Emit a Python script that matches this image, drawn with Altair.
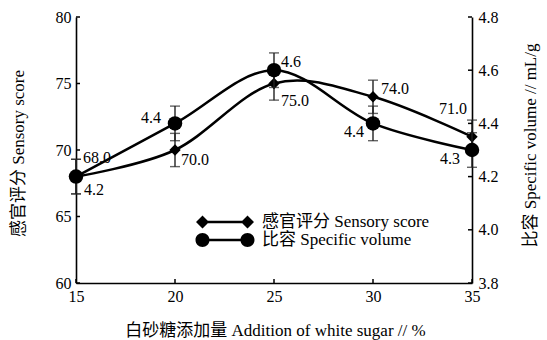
import altair as alt
import pandas as pd

# Sugar addition levels (%) and the two measured responses
sugar = [15, 20, 25, 30, 35]
sensory = [68.0, 70.0, 75.0, 74.0, 71.0]
sensory_err = [1.3, 1.25, 1.25, 1.25, 1.25]
volume = [4.2, 4.4, 4.6, 4.4, 4.3]
volume_err = [0.065, 0.065, 0.065, 0.065, 0.065]

series_names = ["感官评分 Sensory score", "比容 Specific volume"]
x_ticks = [15, 20, 25, 30, 35]
left_ticks = [60, 65, 70, 75, 80]
right_ticks = [3.8, 4.0, 4.2, 4.4, 4.6, 4.8]

W, H = 396, 266
FONT = "Liberation Serif, Noto Sans CJK SC, serif"
INK = "#000000"

df = pd.DataFrame({
    "sugar": sugar,
    "sensory": sensory,
    "s_lo": [v - e for v, e in zip(sensory, sensory_err)],
    "s_hi": [v + e for v, e in zip(sensory, sensory_err)],
    "s_text": [f"{v:.1f}" for v in sensory],
    "volume": volume,
    "v_lo": [v - e for v, e in zip(volume, volume_err)],
    "v_hi": [v + e for v, e in zip(volume, volume_err)],
    "v_text": [f"{v:.1f}" for v in volume],
})
xt_df = pd.DataFrame({"tick": x_ticks})
lt_df = pd.DataFrame({"tick": left_ticks})
rt_df = pd.DataFrame({"tick": right_ticks})
legend_df = pd.DataFrame({"series": series_names, "sugar": [15, 15], "sensory": [68.0, 68.0]})

axis_common = dict(
    domainColor=INK, domainWidth=1.6, tickSize=0, labelFont=FONT, labelFontSize=16,
    labelColor=INK, titleFont=FONT, titleFontSize=17, titleFontWeight="normal",
    titleColor=INK, grid=False, labelFlush=False,
)

x_axis = alt.Axis(values=x_ticks, format="d", title="白砂糖添加量 Addition of white sugar // %",
                  labelPadding=5, titleX=199, titleY=47, titleBaseline="middle",
                  titleAlign="center", **axis_common)
left_axis = alt.Axis(values=left_ticks, format="d", title="感官评分 Sensory score",
                     labelPadding=5, titleAngle=270, titleX=-58, titleY=136,
                     titleBaseline="middle", titleAlign="center", **axis_common)
right_axis = alt.Axis(values=right_ticks, format=".1f", orient="right",
                      title="比容 Specific volume // mL/g", labelPadding=6,
                      titleAngle=270, titleX=58, titleY=128, titleBaseline="middle",
                      titleAlign="center", **axis_common)

x_scale = alt.Scale(domain=[15, 35], nice=False, zero=False)
ls_scale = alt.Scale(domain=[60, 80], nice=False, zero=False)
rs_scale = alt.Scale(domain=[3.8, 4.8], nice=False, zero=False)


def X(field="sugar"):
    return alt.X(f"{field}:Q", scale=x_scale, axis=x_axis)


def YL(field):
    return alt.Y(f"{field}:Q", scale=ls_scale, axis=left_axis)


def YR(field):
    return alt.Y(f"{field}:Q", scale=rs_scale, axis=right_axis)


def label_layers(y_fn, field, text_field, placements):
    layers = []
    for xv, (align, dx, dy) in zip(sugar, placements):
        layers.append(
            alt.Chart(df).transform_filter(alt.datum.sugar == xv)
            .mark_text(align=align, baseline="middle", dx=dx, dy=dy, font=FONT,
                       fontSize=16, color=INK)
            .encode(x=X(), y=y_fn(field), text=f"{text_field}:N")
        )
    return layers


sensory_labels = [("left", 7, -19), ("left", 6, 10), ("left", 7, 17), ("left", 8, -8), ("right", -5, -28)]
volume_labels = [("left", 8, 13), ("right", -14, -5), ("left", 7, -8), ("right", -9, 9), ("right", -12, 9)]

base = alt.Chart(df)


def disc(cx, r):
    # closed circle drawn with four cubic segments
    k = 0.5523 * r
    return (f"M{cx - r},0C{cx - r},{-k} {cx - k},{-r} {cx},{-r}"
            f"C{cx + k},{-r} {cx + r},{-k} {cx + r},0"
            f"C{cx + r},{k} {cx + k},{r} {cx},{r}"
            f"C{cx - k},{r} {cx - r},{k} {cx - r},0Z")


# Legend symbols: a line with a marker on each end (unit = 10 px)
bar = "M-2.25,-0.12L2.25,-0.12L2.25,0.12L-2.25,0.12Z"
diamond_path = (bar + "M-2.9,0L-2.25,-0.65L-1.6,0L-2.25,0.65Z"
                "M1.6,0L2.25,-0.65L2.9,0L2.25,0.65Z")
circle_path = bar + disc(-2.25, 0.7) + disc(2.25, 0.7)

legend_layer = alt.Chart(legend_df).mark_point(filled=True, color=INK, opacity=0, size=400).encode(
    x=X(), y=YL("sensory"),
    shape=alt.Shape("series:N", scale=alt.Scale(domain=series_names, range=[diamond_path, circle_path]),
                    legend=alt.Legend(orient="none", legendX=139, legendY=195, title=None,
                                      padding=0, labelFont=FONT, labelFontSize=17,
                                      labelColor=INK, labelOffset=27, symbolSize=400,
                                      labelLimit=400, rowPadding=0, symbolFillColor=INK,
                                      symbolStrokeWidth=0, symbolOpacity=1)),
)

left_group = alt.layer(
    alt.Chart(xt_df).mark_rule(color=INK, strokeWidth=1.5).encode(
        x=X("tick"), y=alt.value(H), y2=alt.value(H - 4)),
    alt.Chart(lt_df).mark_rule(color=INK, strokeWidth=1.5).encode(
        y=YL("tick"), x=alt.value(0), x2=alt.value(4)),
    base.mark_line(interpolate="cardinal", color=INK, strokeWidth=2.5).encode(x=X(), y=YL("sensory")),
    base.mark_rule(color="#222222", strokeWidth=1.4).encode(x=X(), y=YL("s_lo"), y2="s_hi:Q"),
    base.mark_tick(orient="horizontal", size=10, thickness=1.4, color="#222222").encode(x=X(), y=YL("s_lo")),
    base.mark_tick(orient="horizontal", size=10, thickness=1.4, color="#222222").encode(x=X(), y=YL("s_hi")),
    base.mark_point(shape="diamond", filled=True, color=INK, size=130, opacity=1).encode(x=X(), y=YL("sensory")),
    *label_layers(YL, "sensory", "s_text", sensory_labels),
    legend_layer,
)

right_group = alt.layer(
    alt.Chart(rt_df).mark_rule(color=INK, strokeWidth=1.5).encode(
        y=YR("tick"), x=alt.value(W - 4), x2=alt.value(W)),
    base.mark_line(interpolate="cardinal", color=INK, strokeWidth=2.5).encode(x=X(), y=YR("volume")),
    base.mark_rule(color="#222222", strokeWidth=1.4).encode(x=X(), y=YR("v_lo"), y2="v_hi:Q"),
    base.mark_tick(orient="horizontal", size=10, thickness=1.4, color="#222222").encode(x=X(), y=YR("v_lo")),
    base.mark_tick(orient="horizontal", size=10, thickness=1.4, color="#222222").encode(x=X(), y=YR("v_hi")),
    base.mark_point(shape="circle", filled=True, color=INK, size=210, opacity=1).encode(x=X(), y=YR("volume")),
    *label_layers(YR, "volume", "v_text", volume_labels),
)

chart = (
    alt.layer(left_group, right_group)
    .resolve_scale(y="independent")
    .properties(
        width=W, height=H,
        autosize=alt.AutoSizeParams(type="none"),
        padding={"left": 76, "top": 17, "right": 75, "bottom": 57},
        background="white",
    )
    .configure_view(stroke=None)
)

chart.save("out.html", embed_options={"renderer": "svg", "actions": False})
